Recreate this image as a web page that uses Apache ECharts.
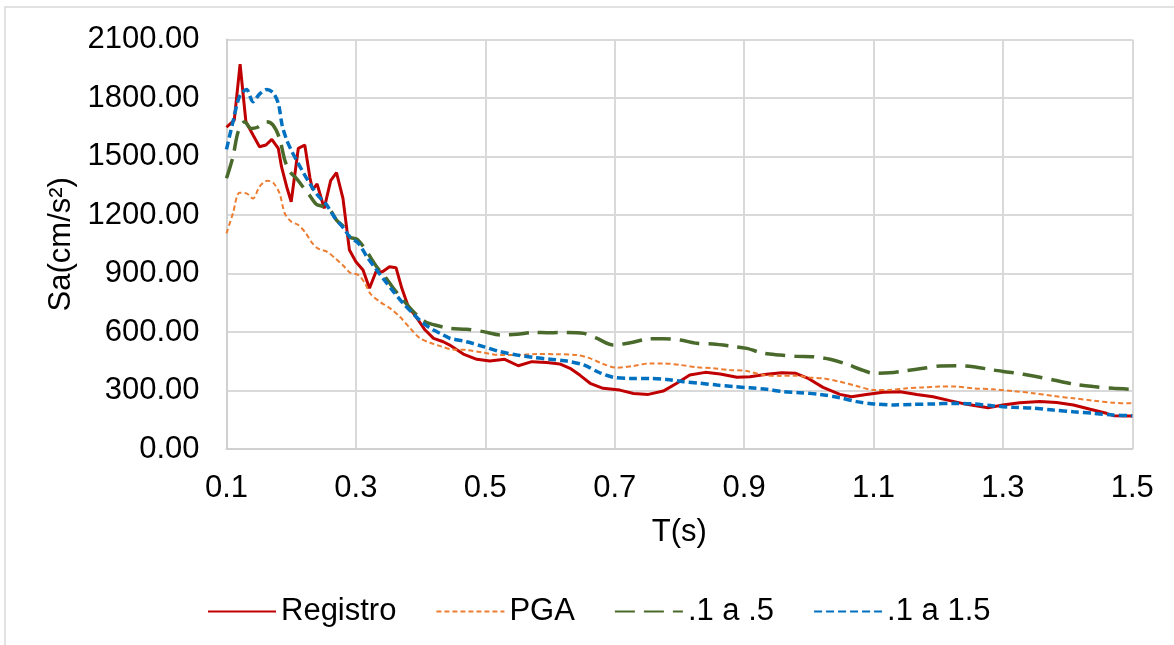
<!DOCTYPE html>
<html>
<head>
<meta charset="utf-8">
<title>Sa vs T</title>
<script src="https://cdn.jsdelivr.net/npm/echarts@6/dist/echarts.min.js"></script>
<style>
  html, body { margin: 0; padding: 0; background: #fff; }
  #chart { width: 1174px; height: 645px; }
</style>
</head>
<body>
<div id="chart"></div>
<script>
// [T(s), Sa(cm/s2)]
const registro = [
  [0.100, 1650], [0.112, 1687], [0.121, 1974], [0.130, 1678], [0.141, 1610], [0.151, 1550],
  [0.161, 1559], [0.170, 1588], [0.180, 1542], [0.185, 1448], [0.193, 1345], [0.200, 1268],
  [0.211, 1542], [0.221, 1559], [0.229, 1390], [0.233, 1330], [0.240, 1359], [0.251, 1234],
  [0.261, 1376], [0.270, 1417], [0.280, 1285], [0.290, 1020], [0.300, 960], [0.311, 918],
  [0.321, 824], [0.331, 909], [0.341, 909], [0.352, 935], [0.362, 930], [0.371, 824],
  [0.381, 730], [0.393, 678], [0.407, 610], [0.420, 567], [0.435, 550], [0.445, 533],
  [0.466, 487], [0.487, 460], [0.507, 451], [0.530, 460], [0.551, 427], [0.572, 448],
  [0.595, 443], [0.615, 436], [0.631, 414], [0.646, 379], [0.662, 337], [0.682, 311],
  [0.708, 302], [0.729, 285], [0.752, 280], [0.775, 297], [0.796, 337], [0.816, 379],
  [0.840, 393], [0.863, 385], [0.889, 368], [0.909, 371], [0.935, 383], [0.958, 391],
  [0.980, 388], [0.998, 364], [1.022, 316], [1.048, 280], [1.066, 268], [1.089, 280],
  [1.115, 291], [1.141, 294], [1.167, 280], [1.192, 268], [1.218, 248], [1.244, 229],
  [1.277, 212], [1.300, 226], [1.326, 237], [1.357, 243], [1.383, 239], [1.409, 226],
  [1.435, 204], [1.460, 183], [1.471, 171], [1.500, 169]
]
const pga = [
  [0.100, 1106], [0.110, 1209], [0.120, 1314], [0.131, 1311], [0.141, 1285], [0.151, 1345],
  [0.163, 1376], [0.172, 1366], [0.182, 1311], [0.190, 1209], [0.200, 1166], [0.211, 1149],
  [0.222, 1109], [0.232, 1058], [0.241, 1029], [0.255, 1012], [0.268, 978], [0.281, 938],
  [0.291, 904], [0.304, 892], [0.314, 850], [0.322, 798], [0.337, 755], [0.353, 721],
  [0.368, 678], [0.384, 619], [0.399, 568], [0.415, 545], [0.433, 525], [0.450, 510],
  [0.471, 508], [0.497, 494], [0.523, 482], [0.549, 482], [0.579, 487], [0.610, 486],
  [0.641, 482], [0.662, 465], [0.682, 436], [0.703, 417], [0.729, 426], [0.755, 439],
  [0.775, 439], [0.801, 431], [0.827, 419], [0.852, 414], [0.878, 405], [0.904, 400],
  [0.930, 379], [0.956, 375], [0.981, 376], [1.002, 366], [1.022, 362], [1.048, 345],
  [1.074, 323], [1.100, 303], [1.125, 303], [1.151, 311], [1.177, 316], [1.203, 320],
  [1.228, 320], [1.254, 311], [1.285, 306], [1.316, 297], [1.347, 286], [1.378, 272],
  [1.409, 260], [1.440, 248], [1.471, 237], [1.500, 234]
]
const rango1a05 = [
  [0.100, 1388], [0.110, 1499], [0.118, 1627], [0.128, 1678], [0.138, 1644], [0.148, 1650],
  [0.162, 1678], [0.172, 1661], [0.182, 1593], [0.190, 1482], [0.198, 1422], [0.208, 1388],
  [0.218, 1345], [0.229, 1298], [0.239, 1255], [0.250, 1243], [0.260, 1226], [0.270, 1174],
  [0.281, 1140], [0.291, 1086], [0.301, 1077], [0.311, 1041], [0.322, 986], [0.332, 935],
  [0.345, 884], [0.358, 824], [0.373, 764], [0.389, 704], [0.407, 653], [0.422, 636],
  [0.445, 619], [0.471, 614], [0.497, 602], [0.523, 585], [0.549, 588], [0.574, 598],
  [0.600, 596], [0.626, 598], [0.652, 593], [0.672, 568], [0.698, 533], [0.724, 545],
  [0.749, 563], [0.775, 566], [0.801, 559], [0.827, 542], [0.852, 538], [0.878, 528],
  [0.904, 516], [0.930, 491], [0.956, 482], [0.981, 475], [1.007, 473], [1.033, 460],
  [1.058, 436], [1.079, 409], [1.101, 388], [1.125, 391], [1.151, 402], [1.177, 414],
  [1.203, 426], [1.228, 427], [1.254, 422], [1.285, 405], [1.316, 391], [1.347, 374],
  [1.378, 354], [1.409, 333], [1.440, 320], [1.471, 311], [1.500, 306]
]
const rango1a15 = [
  [0.100, 1537], [0.110, 1678], [0.120, 1807], [0.131, 1844], [0.141, 1781], [0.151, 1820],
  [0.162, 1844], [0.172, 1827], [0.180, 1773], [0.186, 1661], [0.193, 1585], [0.200, 1533],
  [0.208, 1482], [0.218, 1422], [0.229, 1360], [0.240, 1305], [0.250, 1270], [0.255, 1251],
  [0.268, 1183], [0.281, 1132], [0.291, 1086], [0.304, 1055], [0.317, 986], [0.330, 927],
  [0.342, 875], [0.358, 807], [0.373, 747], [0.389, 692], [0.404, 645], [0.420, 610],
  [0.435, 585], [0.445, 568], [0.471, 550], [0.497, 525], [0.523, 499], [0.549, 482],
  [0.574, 470], [0.600, 460], [0.626, 451], [0.652, 431], [0.677, 391], [0.698, 368],
  [0.724, 362], [0.755, 362], [0.780, 357], [0.806, 345], [0.832, 337], [0.858, 328],
  [0.883, 320], [0.909, 314], [0.935, 306], [0.961, 294], [0.986, 289], [1.017, 280],
  [1.048, 263], [1.074, 243], [1.101, 231], [1.131, 226], [1.161, 229], [1.192, 231],
  [1.223, 234], [1.254, 231], [1.285, 221], [1.316, 214], [1.347, 209], [1.378, 200],
  [1.409, 191], [1.440, 183], [1.471, 174], [1.500, 171]
]
const seriesNames = ['Registro', 'PGA', '.1 a .5', '.1 a 1.5']

const font = 'Liberation Sans, Arial, sans-serif'
const chart = echarts.init(document.getElementById('chart'))

chart.setOption({
  animation: false,
  backgroundColor: '#fff',
  textStyle: { fontFamily: font },
  graphic: [{
    type: 'rect',
    silent: true,
    shape: { x: 5, y: 7, width: 1200, height: 700 },
    style: { fill: 'none', stroke: '#d9d9d9', lineWidth: 1.5 }
  }],
  grid: {
    left: 226.5,
    right: 41.7,
    top: 39.5,
    bottom: 196
  },
  legend: {
    left: 202,
    top: 591,
    itemWidth: 68,
    itemHeight: 14,
    itemGap: 39,
    data: seriesNames,
    itemStyle: { opacity: 0 }, // hide the circle, keep the line sample
    textStyle: { fontSize: 31, color: '#000', fontFamily: font }
  },
  xAxis: {
    type: 'value',
    min: 0.1,
    max: 1.5,
    interval: 0.2,
    name: 'T(s)',
    nameLocation: 'middle',
    nameGap: 68,
    nameTextStyle: { fontSize: 31, color: '#000', fontFamily: font },
    axisLine: { show: true, lineStyle: { color: '#d0d0d0', width: 2 } },
    axisTick: { show: false },
    axisLabel: {
      fontSize: 31,
      color: '#000',
      margin: 24,
      showMinLabel: true,
      showMaxLabel: true,
      formatter: function (v) { return v.toFixed(1) }
    },
    splitLine: { show: true, lineStyle: { color: '#d9d9d9', width: 2 } }
  },
  yAxis: {
    type: 'value',
    min: 0,
    max: 2100,
    interval: 300,
    name: 'Sa(cm/s²)',
    nameLocation: 'middle',
    nameRotate: 90,
    nameGap: 150,
    nameTextStyle: { fontSize: 31, color: '#000', fontFamily: font },
    axisLine: { show: true, lineStyle: { color: '#d0d0d0', width: 2 } },
    axisTick: { show: false },
    axisLabel: {
      fontSize: 31,
      color: '#000',
      margin: 27,
      formatter: function (v) { return v.toFixed(2) }
    },
    splitLine: { show: true, lineStyle: { color: '#d9d9d9', width: 2 } }
  },
  series: [{
    name: seriesNames[0],
    type: 'line',
    data: registro,
    symbol: 'none',
    color: '#c00000',
    lineStyle: { color: '#c00000', width: 3 }
  }, {
    name: seriesNames[1],
    type: 'line',
    data: pga,
    symbol: 'none',
    smooth: 0.3,
    color: '#ed7d31',
    lineStyle: { color: '#ed7d31', width: 2, type: [5, 3] }
  }, {
    name: seriesNames[2],
    type: 'line',
    data: rango1a05,
    symbol: 'none',
    smooth: 0.3,
    color: '#4a6a2c',
    lineStyle: { color: '#4a6a2c', width: 3.5, type: [20, 9] }
  }, {
    name: seriesNames[3],
    type: 'line',
    data: rango1a15,
    symbol: 'none',
    smooth: 0.3,
    color: '#0070c0',
    lineStyle: { color: '#0070c0', width: 3.5, type: [8, 4] }
  }]
})
</script>
</body>
</html>
